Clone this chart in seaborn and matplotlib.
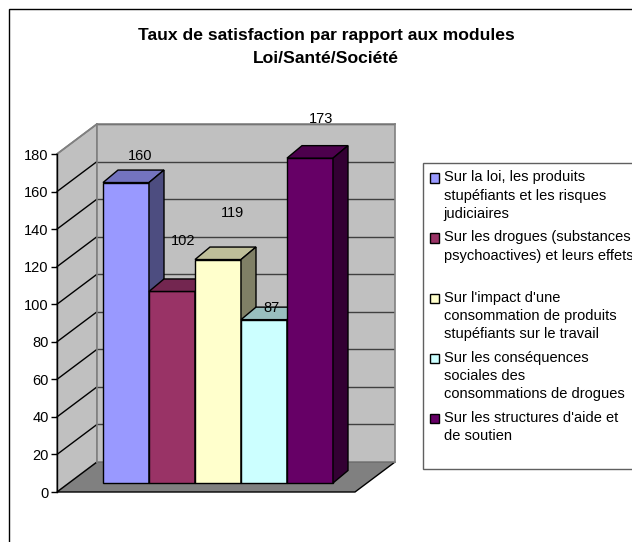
import numpy as np
import pandas as pd
import seaborn as sns
import matplotlib.pyplot as plt
from matplotlib.legend_handler import HandlerPatch
from matplotlib.patches import Polygon, Rectangle

modules = [
    "Sur la loi, les produits\nstupéfiants et les risques\njudiciaires",
    "Sur les drogues (substances\npsychoactives) et leurs effets\n",
    "Sur l'impact d'une\nconsommation de produits\nstupéfiants sur le travail",
    "Sur les conséquences\nsociales des\nconsommations de drogues",
    "Sur les structures d'aide et\nde soutien\n",
]
satisfaction = [160, 102, 119, 87, 173]
front_colors = ["#9999FF", "#993366", "#FFFFCC", "#CCFFFF", "#660066"]
top_colors = ["#7373BF", "#732650", "#BFBF99", "#99BFBF", "#4D004D"]
side_colors = ["#4D4D80", "#4D1A33", "#808066", "#668080", "#330033"]
y_ticks = list(range(0, 181, 20))

W, H = 632, 542
sns.set_theme(style="white")
plt.rcParams['font.family'] = ['Liberation Sans', 'DejaVu Sans']

fig = plt.figure(figsize=(W / 100, H / 100), dpi=100)


def px_axes(left, top, right, bottom, **kw):
    return fig.add_axes([left / W, 1 - bottom / H, (right - left) / W, (bottom - top) / H], **kw)


# fond en pixels : cadre, murs, sol
bg = fig.add_axes([0, 0, 1, 1], zorder=0)
bg.set_xlim(0, W)
bg.set_ylim(H, 0)
bg.axis('off')
bg.add_patch(Rectangle((9, 9), 700, 600, fc='white', ec='black', lw=1))
bg.add_patch(Polygon([(57, 154), (97, 124), (97, 462), (57, 492)], fc='#C0C0C0', ec='#808080', lw=1.2))
bg.add_patch(Polygon([(57, 492), (97, 462), (395, 462), (355, 492)], fc='#808080', ec='black', lw=1))
bg.plot([57, 97], [154, 124], color='#808080', lw=1.2)
for v in y_ticks[1:-1]:
    d = v * 338 / 180
    bg.plot([57, 97], [492 - d, 462 - d], color='black', lw=1)

bg.text(326, 47, "Taux de satisfaction par rapport aux modules\nLoi/Santé/Société",
        ha='center', va='center', fontsize=12.6, fontweight='bold', color='black', linespacing=1.6)

# mur du fond
wall = px_axes(97, 124, 395, 462, zorder=1)
wall.set_facecolor('#C0C0C0')
wall.set_ylim(0, 180)
wall.set_xticks([])
wall.set_yticks(y_ticks)
wall.tick_params(left=False, labelleft=False)
wall.grid(axis='y', color='#404040', lw=1)
for s in wall.spines.values():
    s.set_color('#808080')
    s.set_linewidth(1.2)

# axe des valeurs
scale = px_axes(57, 154, 355, 492, zorder=2)
scale.patch.set_alpha(0)
scale.set_ylim(0, 180)
scale.set_xticks([])
scale.set_yticks(y_ticks)
scale.tick_params(axis='y', left=True, length=4, width=1, color='black', labelsize=10.5, pad=2, labelcolor='black')
sns.despine(ax=scale, bottom=True, right=True, top=True)
scale.spines['left'].set_color('black')
scale.spines['left'].set_linewidth(1)

# barres
ax = px_axes(103, 145, 333, 483, zorder=3)
ax.patch.set_alpha(0)
df = pd.DataFrame({'module': modules, 'value': satisfaction})
sns.barplot(data=df, x='module', y='value', hue='module', palette=front_colors, width=1,
            dodge=False, legend=False, edgecolor='black', linewidth=1, saturation=1, ax=ax)
ax.set_xlim(-0.5, 4.5)
ax.set_ylim(0, 180)
ax.axis('off')

dx = 15 / 46
dy = 12.5 * 180 / 338
bars = list(ax.patches)
# decalage des etiquettes en pixels, comme dans l'original
label_shift = [14, 11, 14, 7, 11]
label_lift = [27, 50, 47, 12, 39]
for i, p in enumerate(bars):
    x0, w, h = p.get_x(), p.get_width(), p.get_height()
    p.set_zorder(i + 2)
    p.set_clip_on(False)
    ax.add_patch(Polygon([(x0, h), (x0 + dx, h + dy), (x0 + w + dx, h + dy), (x0 + w, h)],
                         fc=top_colors[i], ec='black', lw=1, zorder=i + 2, clip_on=False))
    ax.add_patch(Polygon([(x0 + w, 0), (x0 + w + dx, dy), (x0 + w + dx, h + dy), (x0 + w, h)],
                         fc=side_colors[i], ec='black', lw=1, zorder=i + 2, clip_on=False))
    ax.annotate(str(satisfaction[i]), (x0 + w / 2, h), xytext=(label_shift[i] * 0.72, label_lift[i] * 0.72),
                textcoords='offset points', ha='center', va='center', fontsize=10.5, color='black',
                zorder=20, annotation_clip=False)


# legende : carre au niveau de la premiere ligne du libelle
def first_line_patch(legend, orig_handle, xdescent, ydescent, width, height, fontsize):
    n_lines = orig_handle.get_label().count("\n") + 1
    shift = (n_lines - 1) * 18 * 0.72 / 2
    return Rectangle((-xdescent, -ydescent + shift), width, height)


handles = [Rectangle((0, 0), 1, 1, fc=c, ec='black', lw=1, label=m) for c, m in zip(front_colors, modules)]
leg = bg.legend(handles, modules, loc='upper left', mode='expand',
                bbox_to_anchor=(423, 163, 250, 304), bbox_transform=bg.transData, borderaxespad=0,
                fontsize=10.5, frameon=True, fancybox=False, edgecolor='#606060', framealpha=1,
                handlelength=0.62, handleheight=0.62, handletextpad=0.3, labelspacing=0.66,
                borderpad=0.5, handler_map={h: HandlerPatch(patch_func=first_line_patch) for h in handles})
leg.get_frame().set_linewidth(1)
for t in leg.get_texts():
    t.set_linespacing(1.39)
    t.set_color('black')

fig.savefig('out.png', dpi=100)
